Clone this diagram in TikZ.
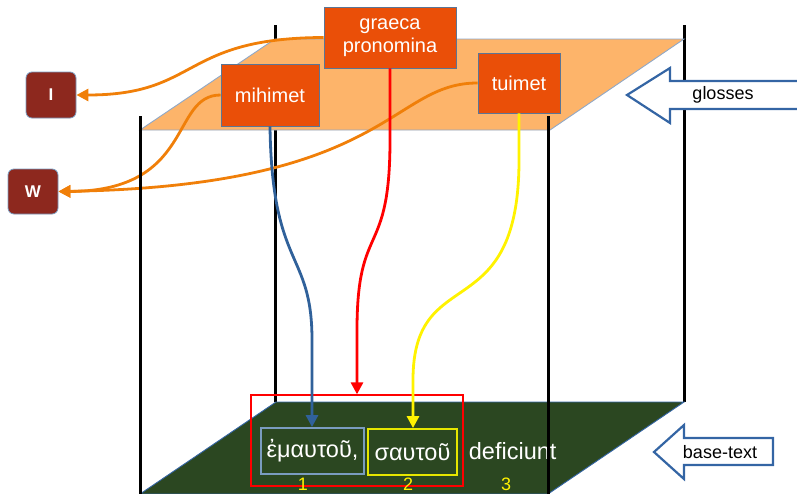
\documentclass[tikz,border=0pt]{standalone}
\usepackage{fontspec}
\setmainfont{Liberation Sans}
\usetikzlibrary{arrows.meta}
\definecolor{planeorange}{HTML}{FDB46A}
\definecolor{planeedge}{HTML}{8FA8C8}
\definecolor{boxorange}{HTML}{EA4F08}
\definecolor{boxedge}{HTML}{5B7595}
\definecolor{darkgreen}{HTML}{2B4721}
\definecolor{greenedge}{HTML}{3465A4}
\definecolor{darkred}{HTML}{8D281E}
\definecolor{curveorange}{HTML}{F07F09}
\definecolor{arrblue}{HTML}{30619A}
\definecolor{box1edge}{HTML}{7A9CC0}
\definecolor{box2edge}{HTML}{E6E600}
\definecolor{blockedge}{HTML}{3465A4}
\tikzset{
  glossbox/.style={rectangle, fill=boxorange, draw=boxedge, line width=0.9pt, text=white,
    font=\fontsize{20}{24}\selectfont, inner sep=0pt, align=center},
  sigla/.style={rectangle, rounded corners=6pt, fill=darkred, draw=box1edge, line width=0.8pt,
    text=white, font=\fontsize{17}{20}\selectfont\bfseries, inner sep=0pt,
    minimum width=50pt, minimum height=46pt},
  frameline/.style={line width=3pt, black},
  orangecurve/.style={line width=2.8pt, curveorange, -{Triangle[length=12pt,width=12pt]}},
  downarrow/.style={line width=2.8pt, -{Triangle[length=12pt,width=12pt]}},
  basebox/.style={rectangle, line width=1.8pt, inner sep=0pt, text=white,
    font=\fontsize{23.5}{27}\selectfont, minimum height=46pt},
  numlabel/.style={text=yellow, font=\fontsize{18}{20}\selectfont, inner sep=0pt},
  blockarrow/.style={fill=white, draw=blockedge, line width=2.2pt, line join=miter},
  blocklabel/.style={font=\fontsize{18}{20}\selectfont, inner sep=0pt, text=black}
}
\begin{document}
\begin{tikzpicture}[x=1pt,y=-1pt]
\useasboundingbox (0,0) rectangle (797,493);
% back vertical lines
\draw[frameline] (275,25) -- (275,402);
\draw[frameline] (684,25) -- (684,402);
% planes
\filldraw[fill=planeorange, draw=planeedge, line width=0.9pt] (140,130) -- (550,130) -- (684,39) -- (275,39) -- cycle;
\filldraw[fill=darkgreen, draw=greenedge, line width=0.9pt] (140,494) -- (548,494) -- (684,402) -- (276,402) -- cycle;

% nodes
\node[glossbox, minimum width=132pt, minimum height=61pt] (gp) at (390,37.5) {graeca\\[-1pt]pronomina};
\node[glossbox, minimum width=98pt, minimum height=62pt] (mihi) at (270,95) {mihimet};
\node[glossbox, minimum width=82pt, minimum height=60pt] (tui) at (519,83) {tuimet};
\node[sigla] (I) at (51,95) {I};
\node[sigla, minimum height=45pt] (W) at (33,191.5) {W};

\node[rectangle, draw=red, line width=1.3pt, minimum width=212pt, minimum height=91pt, inner sep=0pt] (grp) at (357,440.5) {};
\node[basebox, draw=box1edge, minimum width=103pt] (t1) at (312.5,451) {ἐμαυτοῦ,};
\node[basebox, draw=box2edge, minimum width=89pt] (t2) at (412.5,452) {σαυτοῦ};
\node[basebox, anchor=west] (t3) at (468,451) {deficiunt};
\node[numlabel] (n1) at (303,484) {1};
\node[numlabel] (n2) at (408,484) {2};
\node[numlabel] (n3) at (506,484) {3};

% connectors
\draw[orangecurve] (gp.west) .. controls (180,38) and (200,95) .. (I.east);
\draw[orangecurve] (mihi.west) .. controls (170,95) and (195,191) .. (W.east);
\draw[orangecurve] (tui.west) .. controls (390,83) and (390,186) .. (W.east);
\draw[downarrow, arrblue] (mihi.south) .. controls (272,270) and (312,250) .. (312,340) -- (t1.north -| 312,0);
\draw[downarrow, red] (gp.south) -- (390,140) .. controls (390,260) and (357,220) .. (357,330) -- (grp.north);
\draw[downarrow, yellow] (tui.south) -- (519,160) .. controls (519,330) and (413,260) .. (413,380) -- (t2.north -| 413,0);

% front vertical lines
\draw[frameline] (140,116) -- (140,494);
\draw[frameline] (548,116) -- (548,494);

% block arrows
\draw[blockarrow] (627,95) -- (670,68) -- (670,81) -- (800,81) -- (800,109) -- (670,109) -- (670,123) -- cycle;
\node[blocklabel] (glosses) at (723,95) {glosses};
\draw[blockarrow] (654,452) -- (684,425) -- (684,438) -- (773,438) -- (773,465) -- (684,465) -- (684,479) -- cycle;
\node[blocklabel] (basetext) at (720,452) {base-text};
\end{tikzpicture}
\end{document}
